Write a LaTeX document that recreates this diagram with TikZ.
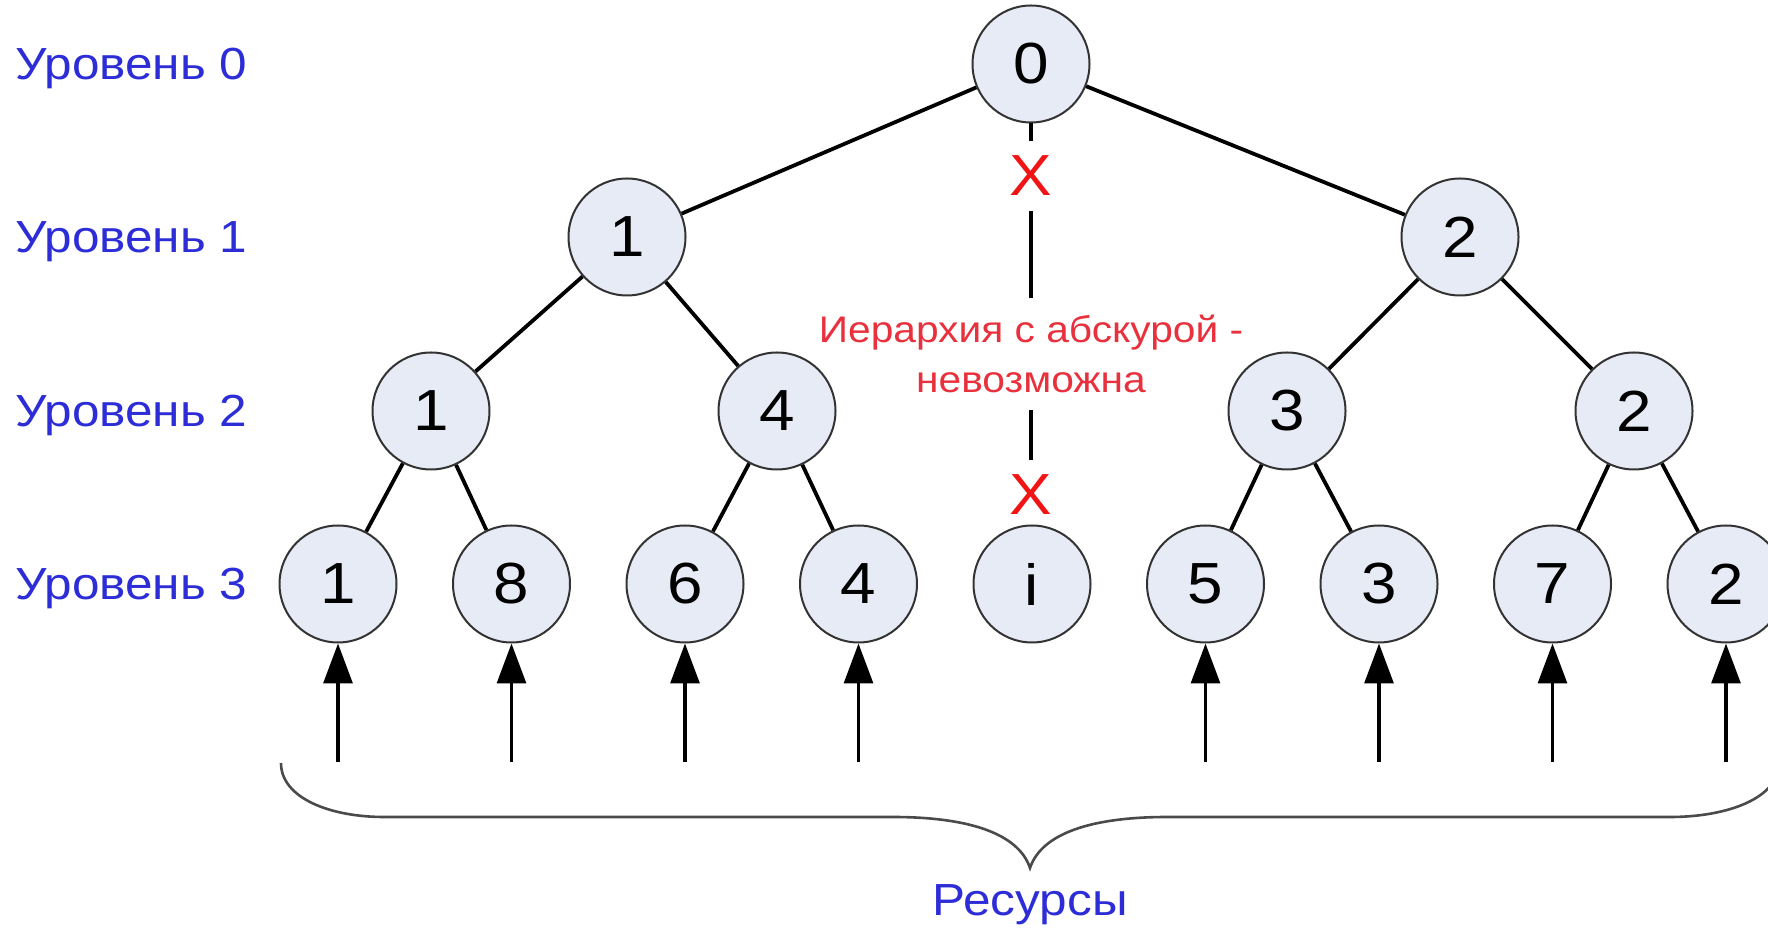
\documentclass[tikz,border=0pt]{standalone}
\usepackage{fontspec}
\setmainfont{Liberation Sans}[FakeStretch=1.1]
\usetikzlibrary{arrows.meta,positioning}
\definecolor{LevelBlue}{HTML}{2D2DD7}
\definecolor{NoteRed}{HTML}{E8313D}
\definecolor{CrossRed}{HTML}{F01414}
\definecolor{NodeFill}{HTML}{E7EBF5}
\definecolor{NodeDraw}{HTML}{333333}
\definecolor{BraceGray}{HTML}{4A4A4A}
\tikzset{
  treenode/.style={circle,draw=NodeDraw,line width=1pt,fill=NodeFill,minimum size=58.5pt,inner sep=0pt,font=\fontsize{29}{34}\selectfont},
  levellabel/.style={anchor=base west,inner sep=0pt,text=LevelBlue,font=\fontsize{22.5}{27}\selectfont},
  notetext/.style={align=center,text=NoteRed,minimum height=56pt,inner sep=0pt,font=\fontsize{18.5}{25}\selectfont},
  crossmark/.style={text=CrossRed,inner xsep=0pt,inner ysep=7.5pt,font=\fontsize{29}{34}\selectfont},
  treeedge/.style={line width=1.9pt,draw=black},
  feedarrow/.style={-{Triangle[length=20pt,width=14.5pt]},line width=1.6pt},
  resbrace/.style={line width=1.3pt,draw=BraceGray}
}

\begin{document}
\begin{tikzpicture}[x=0.5pt,y=-0.5pt]
\useasboundingbox (0,0) rectangle (1768,929);
\clip (0,0) rectangle (1768,929);
\foreach \i/\y in {0/80,1/253,2/427,3/600}
  \node[levellabel] (lev\i) at (15,\y) {Уровень \i};
\node[treenode] (a0) at (1031,64) {0};
\node[treenode] (b1) at (627,237) {1};
\node[treenode] (b2) at (1460,237) {2};
\node[treenode] (c1) at (431,411) {1};
\node[treenode] (c2) at (777,411) {4};
\node[treenode] (c3) at (1287,411) {3};
\node[treenode] (c4) at (1634,411) {2};
\foreach \v [count=\k] in {1,8,6,4,i,5,3,7,2}
  \node[treenode] (d\k) at ({338+173.5*(\k-1)},584) {\v};
\draw[treeedge] (a0) -- (b1) (a0) -- (b2);
\draw[treeedge] (b1) -- (c1) (b1) -- (c2) (b2) -- (c3) (b2) -- (c4);
\draw[treeedge] (c1) -- (d1) (c1) -- (d2) (c2) -- (d3) (c2) -- (d4);
\draw[treeedge] (c3) -- (d6) (c3) -- (d7) (c4) -- (d8) (c4) -- (d9);
\node[crossmark] (x1) at (1031,176) {X};
\node[notetext] (note) at (1031,354) {Иерархия с абскурой -\\невозможна};
\node[crossmark] (x2) at (1031,495) {X};
\draw[treeedge] (a0) -- (x1) (x1) -- (note) (note) -- (x2);
\foreach \k in {1,2,3,4,6,7,8,9} {
  \coordinate (s\k) at ({338+173.5*(\k-1)},762);
  \draw[feedarrow] (s\k) -- (d\k);
}
\coordinate (tip) at (1030,868);
\draw[resbrace] (281,763) .. controls (281,798) and (330,817) .. (384,817) -- (893,817)
  .. controls (965,817) and (1018,832) .. (tip)
  .. controls (1042,832) and (1095,817) .. (1167,817) -- (1670,817)
  .. controls (1728,817) and (1779,798) .. (1779,763);
\node[below=8pt of tip,inner sep=0pt,text=LevelBlue,font=\fontsize{22.5}{27}\selectfont] (res) {Ресурсы};
\end{tikzpicture}
\end{document}
